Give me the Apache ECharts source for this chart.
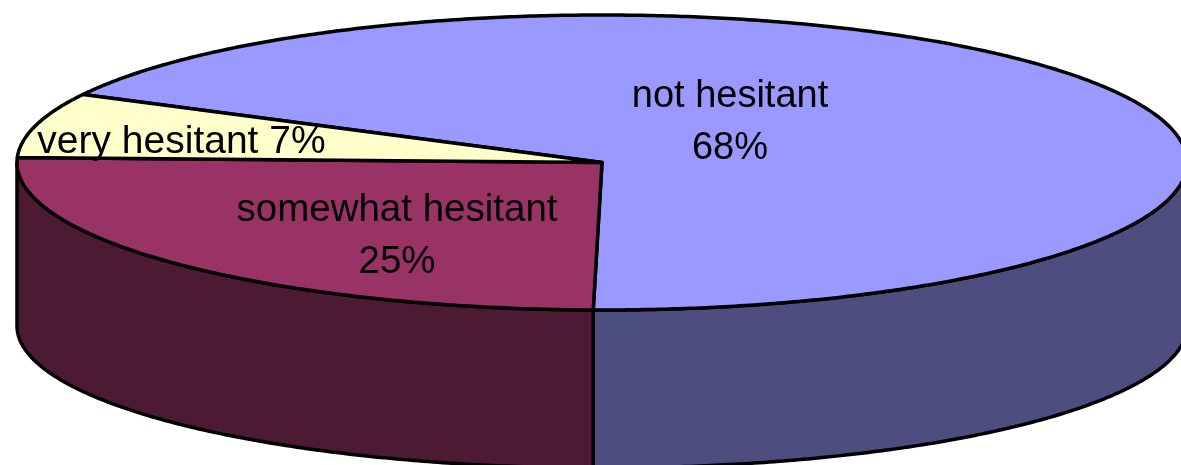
<!DOCTYPE html>
<html>
<head>
<meta charset="utf-8">
<style>
html, body { margin: 0; padding: 0; background: #fff; }
#chart { width: 1181px; height: 465px; }
</style>
<script src="https://cdn.jsdelivr.net/npm/echarts@6/dist/echarts.min.js"></script>
</head>
<body>
<div id="chart"></div>
<script>
var categories = ['not hesitant', 'somewhat hesitant', 'very hesitant'];
// shares, the labels show them rounded
var values = [67.6, 25.3, 7.1];
var topColors = ['#9999FF', '#993366', '#FFFFCC'];
var sideColors = ['#4D4D80', '#4D1A33', '#808066'];

var total = values.reduce(function (a, b) { return a + b; }, 0);
var startAngle = 207.5;
var top3d = { cx: 602, cy: 162.5, rx: 585, ry: 147.5 };
var bottom3d = { cx: 602, cy: 326, rx: 585, ry: 142 };

function rad(a) { return a * Math.PI / 180; }
function onEllipse(e, a) {
    return [e.cx + e.rx * Math.cos(rad(a)), e.cy + e.ry * Math.sin(rad(a))];
}
function arc(e, from, to) {
    var pts = [];
    var n = Math.max(2, Math.ceil(Math.abs(to - from) * 2));
    for (var i = 0; i <= n; i++) {
        pts.push(onEllipse(e, from + (to - from) * i / n));
    }
    return pts;
}
function sliceRange(idx) {
    var before = 0;
    for (var i = 0; i < idx; i++) before += values[i];
    var a0 = startAngle + before / total * 360;
    return [a0, a0 + values[idx] / total * 360];
}
// the part of [a0,a1] that faces the viewer (0..180, also 360..540)
function frontRange(a0, a1) {
    var offs = [0, 360];
    for (var i = 0; i < offs.length; i++) {
        var from = Math.max(a0, offs[i]);
        var to = Math.min(a1, offs[i] + 180);
        if (to > from) return [from, to];
    }
    return null;
}

function renderSlice(params, api) {
    var idx = api.value(0);
    var r = sliceRange(idx);
    var children = [];
    var style = { stroke: '#000', lineWidth: 3.5, lineJoin: 'round' };
    var front = frontRange(r[0], r[1]);
    if (front) {
        children.push({
            type: 'polygon',
            shape: { points: arc(top3d, front[0], front[1]).concat(arc(bottom3d, front[1], front[0])) },
            style: Object.assign({ fill: sideColors[idx] }, style)
        });
    }
    children.push({
        type: 'polygon',
        shape: { points: [[top3d.cx, top3d.cy]].concat(arc(top3d, r[0], r[1])) },
        style: Object.assign({ fill: topColors[idx] }, style)
    });
    return { type: 'group', children: children };
}

function labelText(x, y, size, text) {
    return {
        type: 'text',
        z: 10,
        style: {
            x: x, y: y, text: text,
            fill: '#000',
            font: size + 'px "Liberation Sans", Arial, sans-serif',
            align: 'center',
            verticalAlign: 'middle',
            lineHeight: 52
        }
    };
}

function pct(i) { return Math.round(values[i] / total * 100) + '%'; }

var myChart = echarts.init(document.getElementById('chart'), null, { renderer: 'canvas' });
var option = {
    animation: false,
    backgroundColor: '#fff',
    series: [{
        type: 'custom',
        coordinateSystem: 'none',
        silent: true,
        clip: false,
        data: values.map(function (v, i) { return [i, v]; }),
        renderItem: renderSlice
    }],
    graphic: [
        labelText(730, 122.5, 38, categories[0] + '\n' + pct(0)),
        labelText(397, 236.5, 38.5, categories[1] + '\n' + pct(1)),
        labelText(181.5, 142, 39, categories[2] + ' ' + pct(2))
    ]
};
myChart.setOption(option);
</script>
</body>
</html>
